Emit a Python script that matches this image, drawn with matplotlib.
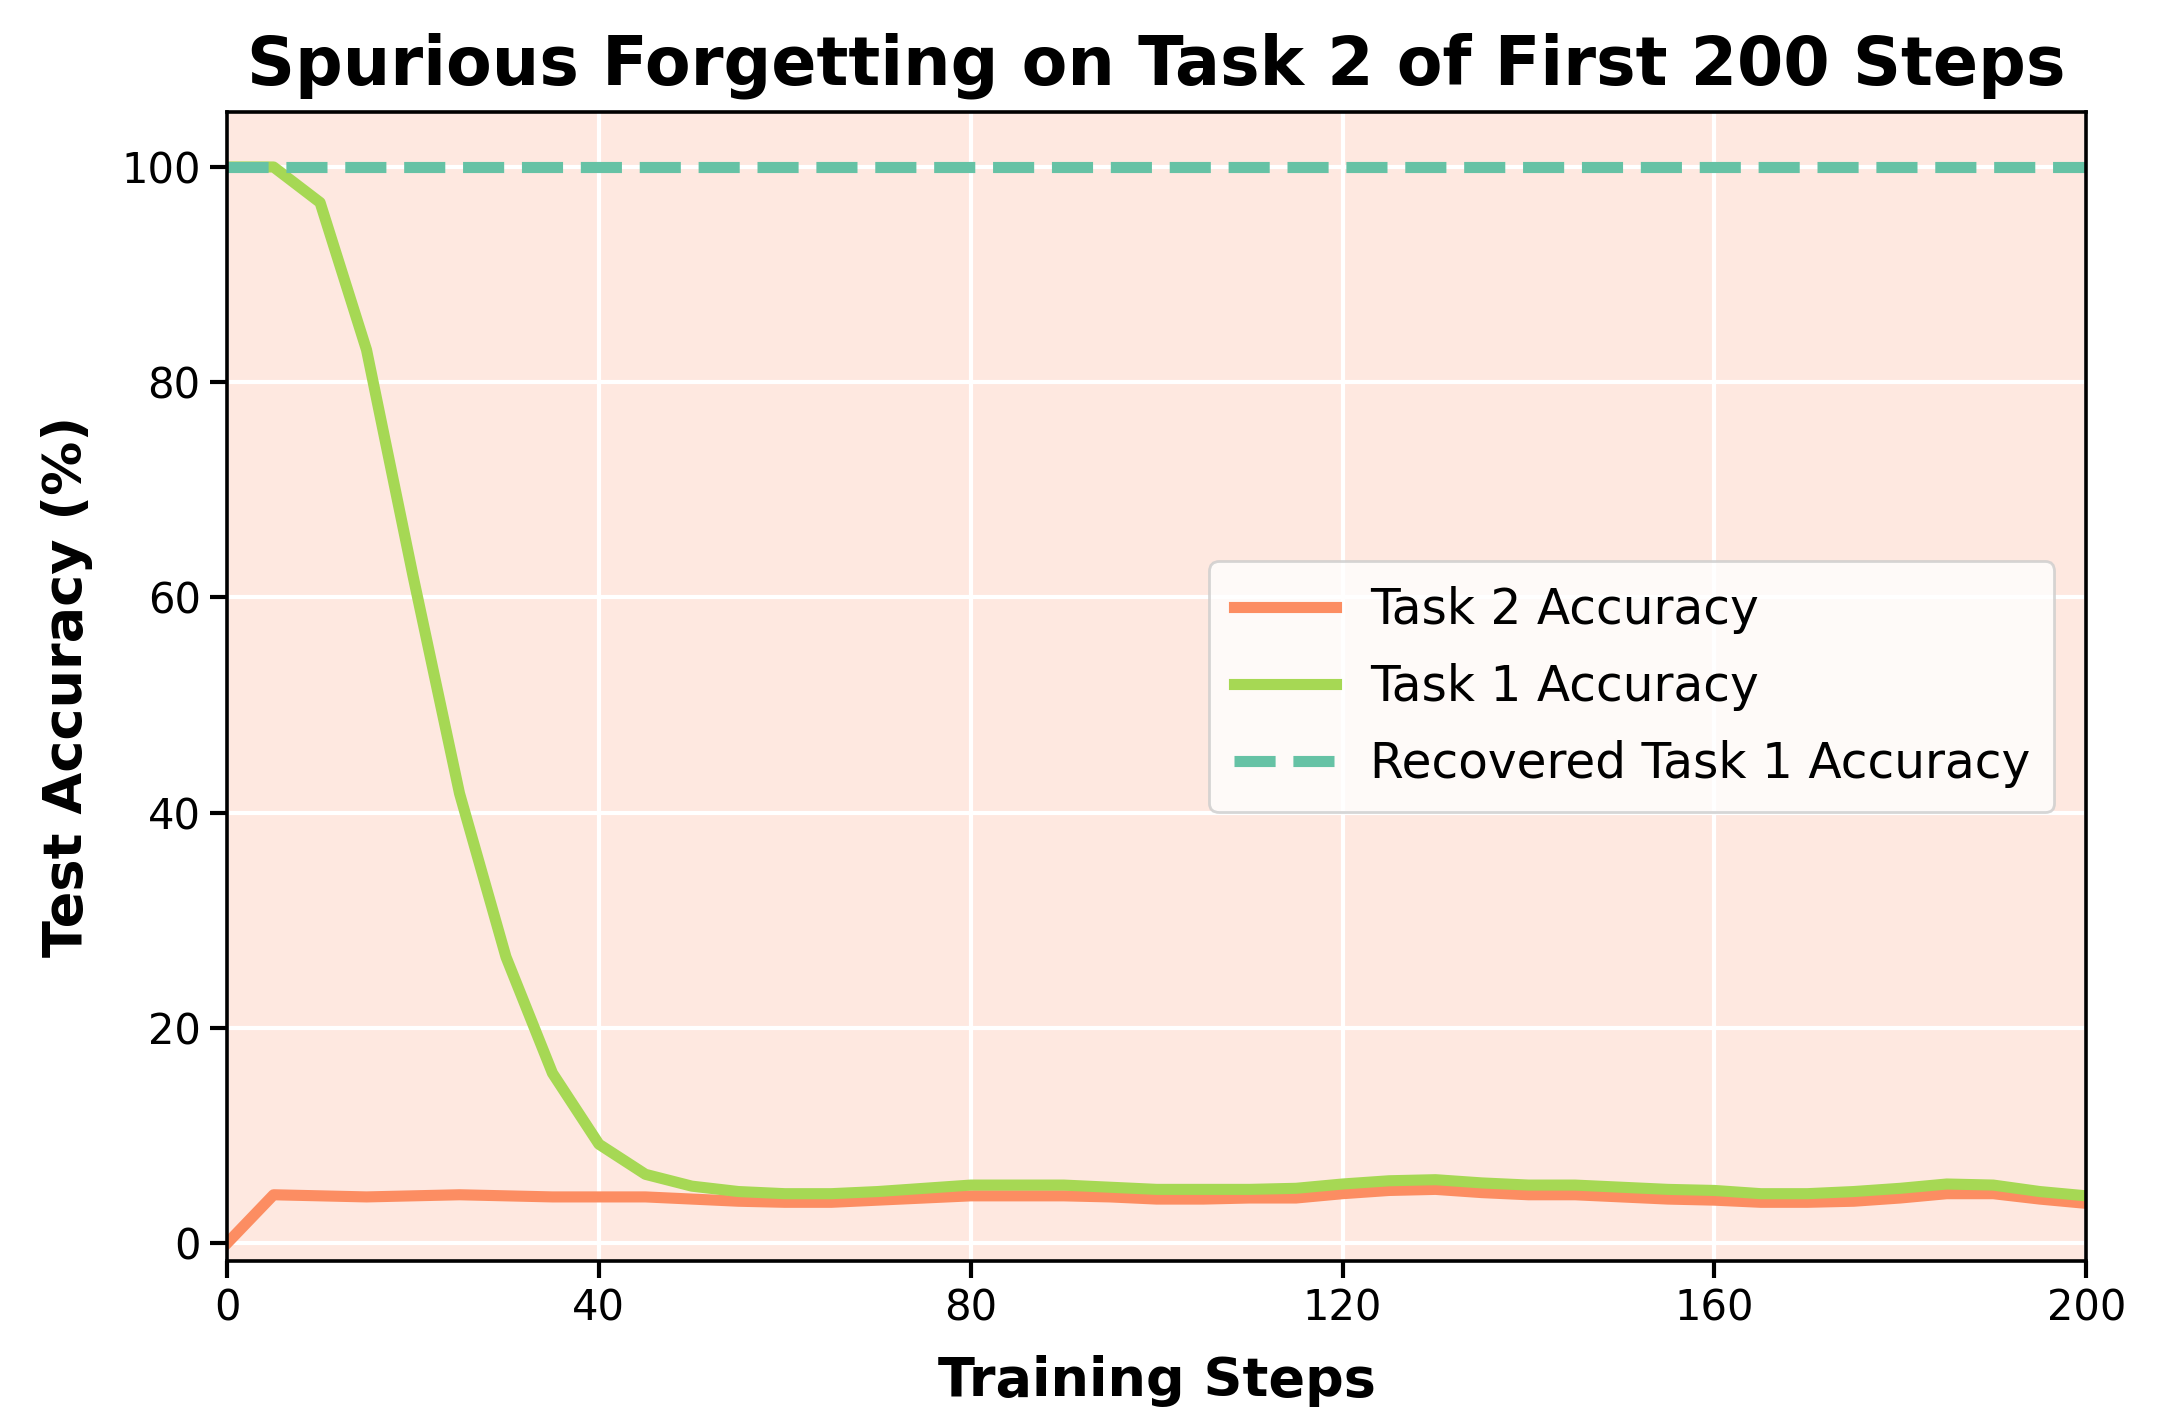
import matplotlib
matplotlib.use("Agg")
import matplotlib.pyplot as plt

steps = list(range(0, 201, 5))
task1_acc = [100, 100, 96.7, 83, 62, 41.8, 26.6, 15.8, 9.2, 6.4,
             5.3, 4.8, 4.6, 4.6, 4.8, 5.1, 5.4, 5.4, 5.4, 5.2,
             5.0, 5.0, 5.0, 5.1, 5.5, 5.8, 5.9, 5.6, 5.4, 5.4,
             5.2, 5.0, 4.9, 4.6, 4.6, 4.8, 5.1, 5.5, 5.4, 4.8, 4.4]
task2_acc = [0, 4.5, 4.4, 4.3, 4.4, 4.5, 4.4, 4.3, 4.3, 4.3,
             4.1, 3.9, 3.8, 3.8, 4.0, 4.2, 4.4, 4.4, 4.4, 4.3,
             4.1, 4.1, 4.2, 4.2, 4.6, 4.9, 5.0, 4.7, 4.5, 4.5,
             4.3, 4.1, 4.0, 3.8, 3.8, 3.9, 4.2, 4.6, 4.6, 4.1, 3.7]
recovered_acc = 100
xticks = [0, 40, 80, 120, 160, 200]
yticks = [0, 20, 40, 60, 80, 100]

c_orange = "#fc8d62"
c_green = "#a6d854"
c_teal = "#66c2a5"

fig = plt.figure(figsize=(2163/200, 1419/200), dpi=200)
ax = fig.add_axes([0.105, 0.111, 0.8595, 0.810])
ax.set_facecolor("#fee8e0")

ax.plot(steps, task2_acc, color=c_orange, lw=4, label="Task 2 Accuracy")
ax.plot(steps, task1_acc, color=c_green, lw=4, label="Task 1 Accuracy")
ax.axhline(recovered_acc, color=c_teal, lw=4, ls="--", label="Recovered Task 1 Accuracy")

ax.set_xlim(0, 200)
ax.set_ylim(-1.7, 105.1)
ax.set_xticks(xticks)
ax.set_yticks(yticks)
ax.grid(True, color="white", lw=1.5)
ax.set_axisbelow(True)
ax.tick_params(labelsize=15, length=6, width=1.5, direction="out")
for s in ax.spines.values():
    s.set_color("black")
    s.set_linewidth(1.3)

ax.set_xlabel("Training Steps", fontsize=19.5, fontweight="bold", labelpad=9)
ax.set_ylabel("Test Accuracy (%)", fontsize=19.5, fontweight="bold", labelpad=10)
ax.set_title("Spurious Forgetting on Task 2 of First 200 Steps", fontsize=24,
             fontweight="bold", pad=10)

leg = ax.legend(loc="center right", fontsize=17.5, frameon=True, facecolor="white",
                framealpha=0.8, edgecolor="#cccccc", borderpad=0.5,
                handlelength=2.1, handletextpad=0.7, labelspacing=0.6,
                bbox_to_anchor=(0.996, 0.5))

fig.savefig("out.png", dpi=200)
